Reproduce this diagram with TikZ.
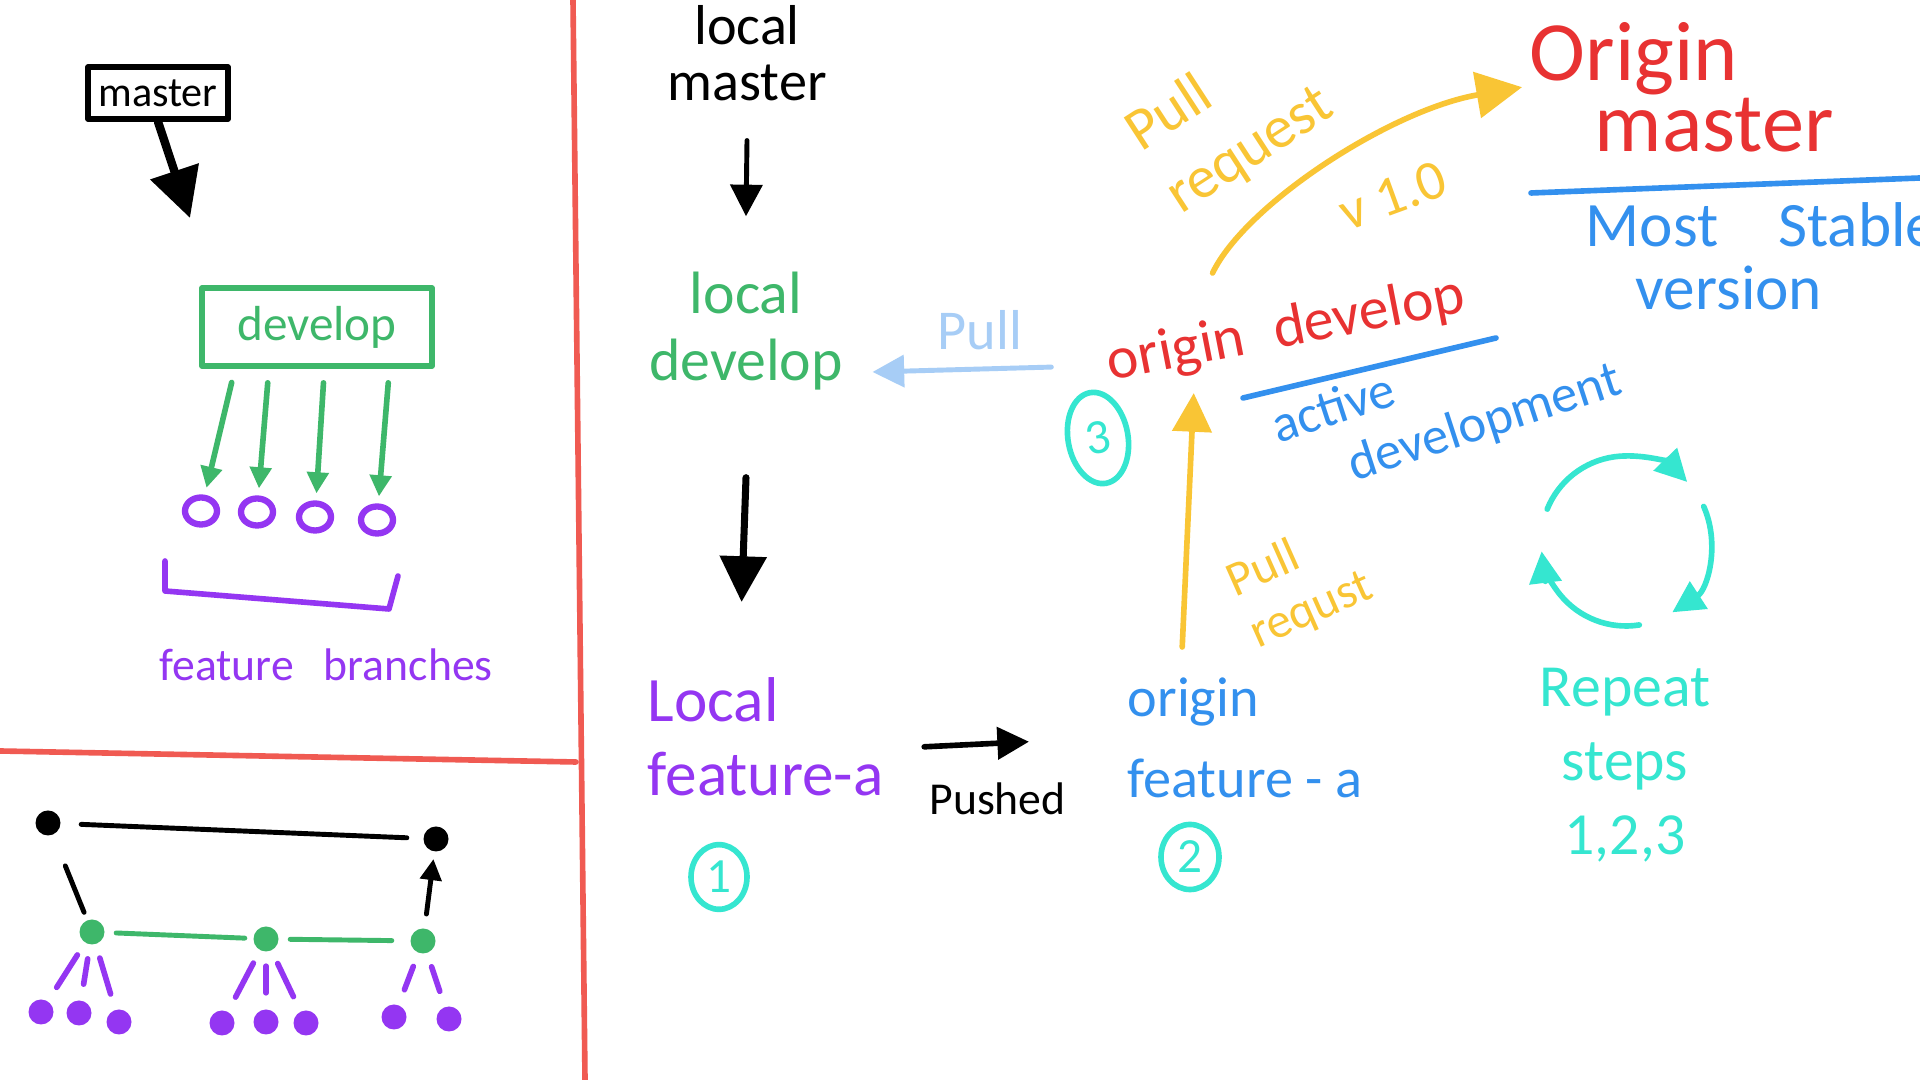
\documentclass[tikz,border=0pt]{standalone}
\usepackage{fontspec}
\setmainfont{Carlito}
\usetikzlibrary{arrows.meta,shapes.geometric}

\definecolor{frame}{HTML}{F05A52}
\definecolor{orired}{HTML}{E83232}
\definecolor{devgreen}{HTML}{3EB76A}
\definecolor{featpurple}{HTML}{9436F2}
\definecolor{pryellow}{HTML}{F9C535}
\definecolor{noteblue}{HTML}{3390EE}
\definecolor{pullblue}{HTML}{A7CDF6}
\definecolor{stepcyan}{HTML}{35E6D0}

\tikzset{
	pen/.style={line width=#1, line cap=round, line join=round},
	pen/.default=1.6pt,
	arrowhd/.style={-{Triangle[length=#1, width=#1]}},
	arrowhd/.default=7pt,
	hand/.style 2 args={font=\fontsize{#1}{#2}\selectfont, inner sep=2pt},
	blob/.style={circle, fill=#1, inner sep=0pt, minimum size=0.25cm},
	blob/.default=black,
	ring/.style={ellipse, draw=featpurple, pen=1.8pt, inner sep=0pt, minimum width=0.32cm, minimum height=0.27cm},
	stepno/.style={ellipse, draw=stepcyan, text=stepcyan, pen=1.6pt, inner sep=0pt, hand={14}{14}},
}

\begin{document}
\begin{tikzpicture}
	\fill[white] (0,0) rectangle (19.2,10.8);
	\useasboundingbox (0,0) rectangle (19.2,10.8);

	\draw[frame, pen] (5.73,10.8) -- (5.85,0);
	\draw[frame, pen] (0,3.29) -- (5.76,3.18);

	\node[draw, pen, hand={12}{12}, minimum width=1.4cm, minimum height=0.52cm] (master) at (1.58,9.87) {master};
	\coordinate (masterto) at (1.90,8.62);
	\node[draw=devgreen, text=devgreen, pen, hand={14}{14}, minimum width=2.3cm, minimum height=0.78cm] (develop) at (3.17,7.53) {develop};
	\node[ring] (f1) at (2.01,5.69) {};
	\node[ring] (f2) at (2.57,5.68) {};
	\node[ring] (f3) at (3.15,5.63) {};
	\node[ring] (f4) at (3.77,5.60) {};
	\node[text=featpurple, hand={13}{13}] (branches) at (3.26,4.15) {feature\hspace{0.3cm}branches};

	\draw[pen=2.4pt, arrowhd=14pt] (master.south) -- (masterto);
	\draw[devgreen, pen, arrowhd=6pt, shorten <=4pt, shorten >=2pt] (develop.207) -- (f1);
	\draw[devgreen, pen, arrowhd=6pt, shorten <=4pt, shorten >=2pt] (develop.221) -- (f2);
	\draw[devgreen, pen, arrowhd=6pt, shorten <=4pt, shorten >=2pt] (develop.280) -- (f3);
	\draw[devgreen, pen, arrowhd=6pt, shorten <=4pt, shorten >=2pt] (develop.330) -- (f4);
	\draw[featpurple, pen] (1.65,5.19) -- (1.65,4.89) -- (3.89,4.71) -- (3.98,5.04);

	\node[blob] (b1) at (0.48,2.57) {};
	\node[blob] (b2) at (4.36,2.41) {};
	\node[blob=devgreen] (g1) at (0.92,1.48) {};
	\node[blob=devgreen] (g2) at (2.66,1.41) {};
	\node[blob=devgreen] (g3) at (4.23,1.39) {};
	\node[blob=featpurple] (p1) at (0.41,0.68) {};
	\node[blob=featpurple] (p2) at (0.79,0.67) {};
	\node[blob=featpurple] (p3) at (1.19,0.58) {};
	\node[blob=featpurple] (p4) at (2.22,0.57) {};
	\node[blob=featpurple] (p5) at (2.66,0.58) {};
	\node[blob=featpurple] (p6) at (3.06,0.57) {};
	\node[blob=featpurple] (p7) at (3.94,0.63) {};
	\node[blob=featpurple] (p8) at (4.49,0.61) {};

	\draw[pen=1.4pt, shorten <=0.2cm, shorten >=0.16cm] (b1) -- (b2);
	\draw[pen=1.4pt, shorten <=0.33cm, shorten >=0.08cm] (b1) -- (g1);
	\draw[pen=1.4pt, arrowhd=6pt, shorten <=0.14cm, shorten >=0.07cm] (g3) -- (b2);
	\draw[devgreen, pen=1.4pt, shorten <=0.11cm, shorten >=0.08cm] (g1) -- (g2);
	\draw[devgreen, pen=1.4pt, shorten <=0.11cm, shorten >=0.18cm] (g2) -- (g3);
	\draw[featpurple, pen, shorten <=0.14cm, shorten >=0.16cm] (g1) -- (p1);
	\draw[featpurple, pen, shorten <=0.14cm, shorten >=0.16cm] (g1) -- (p2);
	\draw[featpurple, pen, shorten <=0.14cm, shorten >=0.16cm] (g1) -- (p3);
	\draw[featpurple, pen, shorten <=0.14cm, shorten >=0.16cm] (g2) -- (p4);
	\draw[featpurple, pen, shorten <=0.14cm, shorten >=0.16cm] (g2) -- (p5);
	\draw[featpurple, pen, shorten <=0.14cm, shorten >=0.16cm] (g2) -- (p6);
	\draw[featpurple, pen, shorten <=0.14cm, shorten >=0.16cm] (g3) -- (p7);
	\draw[featpurple, pen, shorten <=0.14cm, shorten >=0.16cm] (g3) -- (p8);

	\node[hand={16}{16}, align=center] (lmaster) at (7.47,10.27) {local\\master};
	\node[text=devgreen, hand={17}{19}, align=center] (ldevelop) at (7.46,7.49) {local\\develop};
	\node[text=featpurple, hand={18}{21}, align=left, anchor=north west] (lfeature) at (6.40,4.10) {Local\\feature-a};
	\node[stepno, minimum width=0.56cm, minimum height=0.64cm] (s1) at (7.19,2.03) {1};
	\node[text=noteblue, hand={16}{23}, align=left, anchor=north west] (ofeature) at (11.20,4.10) {origin\\feature - a};
	\node[stepno, minimum width=0.58cm, minimum height=0.58cm] (s2) at (11.90,2.23) {2};
	\node[text=orired, hand={17}{17}, rotate=11] (odevelop) at (12.86,7.49) {origin\hspace{0.3cm}develop};
	\node[stepno, minimum width=0.6cm, minimum height=0.92cm, rotate=10] (s3) at (10.98,6.42) {3};
	\node[text=noteblue, hand={15}{17}, align=left, rotate=18] (active) at (14.47,6.75) {active\\\hspace{0.6cm}development};
	\node[text=orired, hand={24}{20}, align=left, anchor=north west] (omaster) at (15.22,10.65) {Origin\\\hspace{0.65cm}master};
	\node[text=noteblue, hand={18}{18}, align=left, anchor=north west] (stable) at (15.78,8.85) {Most\hspace{0.6cm}Stable\\\hspace{0.5cm}version};
	\node[text=stepcyan, hand={17}{21}, align=center] (repeat) at (16.25,3.15) {Repeat\\steps\\1,2,3};
	\node[text=pryellow, hand={17}{21}, align=left, rotate=33] (prmaster) at (12.30,9.60) {Pull\\request};
	\node[text=pryellow, hand={16}{16}, rotate=20] (version) at (13.93,8.84) {v 1.0};
	\node[text=pryellow, hand={14}{16}, align=left, rotate=24] (prdevelop) at (13.0,4.95) {Pull\\requst};

	\draw[noteblue, pen] (12.43,6.82) -- (14.96,7.42);
	\draw[noteblue, pen] (15.31,8.87) -- (19.2,9.02);

	\draw[pen=1.4pt, arrowhd=9pt] ([yshift=-3.2mm]lmaster.south) -- ([yshift=4.8mm]ldevelop.north);
	\draw[pen=2pt, arrowhd=13pt] ([yshift=-8mm]ldevelop.south) -- ([xshift=-2.4mm, yshift=6.8mm]lfeature.north);
	\draw[pullblue, pen=1.4pt, arrowhd=9pt] ([xshift=-4.9mm]odevelop.west) -- ([xshift=2.2mm, yshift=-4.1mm]ldevelop.east) node[pos=0.4, above=1mm, text=pullblue, hand={16}{16}] {Pull};
	\draw[pen=1.6pt, arrowhd=9pt] ([xshift=3.3mm, yshift=-1mm]lfeature.east) -- ([xshift=-9.1mm, yshift=-0.4mm]ofeature.west) node[pos=0.7, below=3mm, hand={13}{13}] {Pushed};
	\draw[pryellow, pen, arrowhd=11pt] ([xshift=-6.3mm, yshift=2.3mm]ofeature.north) -- ([xshift=8.7mm, yshift=0.7mm]odevelop.south west);
	\draw[pryellow, pen, arrowhd=13pt] ([xshift=-6.7mm, yshift=2.5mm]odevelop.north) .. controls (12.45,8.75) and (13.9,9.7) .. (omaster.west);

	\coordinate (loopc) at (16.26,5.39);
	\draw[stepcyan, pen, arrowhd=9pt] ([shift={(158:0.85)}]loopc) arc[start angle=158, end angle=44, radius=0.85];
	\draw[stepcyan, pen, arrowhd=9pt] ([shift={(24:0.85)}]loopc) arc[start angle=24, end angle=-57, radius=0.85];
	\draw[stepcyan, pen, arrowhd=9pt] ([shift={(-81:0.85)}]loopc) arc[start angle=-81, end angle=-173, radius=0.85];
\end{tikzpicture}
\end{document}
